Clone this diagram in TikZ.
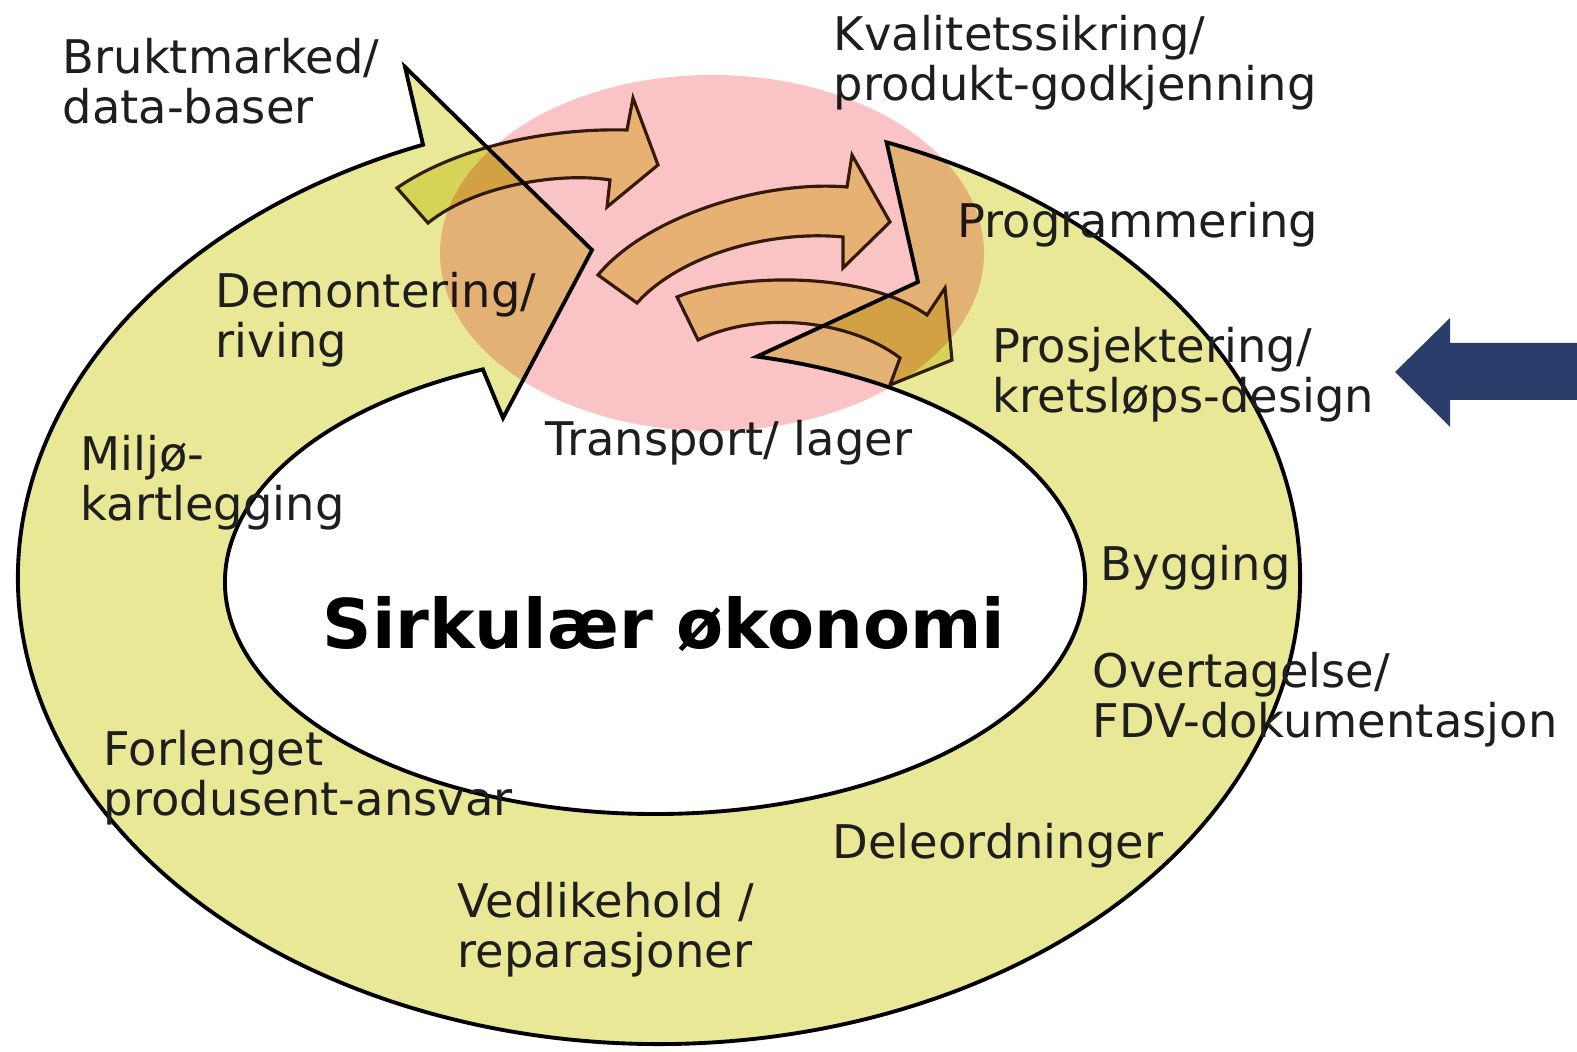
\documentclass[tikz,border=0pt]{standalone}
\usepackage{fontspec}
\setmainfont{DejaVu Sans}
\usetikzlibrary{calc}
\definecolor{ringyel}{HTML}{E8E896}
\definecolor{arryel}{HTML}{ECE896}
\definecolor{hlpink}{HTML}{FAC3C6}
\definecolor{snavy}{HTML}{2B3D6B}
\definecolor{sbrown}{HTML}{3A2410}
\definecolor{stext}{HTML}{1E1E1E}
\tikzset{
  ring/.style={draw=black, line width=1.1pt, fill=ringyel, line join=miter},
  flow/.style={draw=sbrown, line width=0.9pt, fill=arryel, blend mode=multiply},
  spot/.style={fill=hlpink, draw=none, blend mode=multiply},
  lbl/.style={anchor=north west, inner sep=0pt, align=left, text=stext,
    font=\fontsize{13.2}{14}\selectfont},
  ttl/.style={anchor=north west, inner sep=0pt, text=black,
    font=\fontsize{19.5}{22}\selectfont\bfseries}
}
\begin{document}
\begin{tikzpicture}
  \fill[white] (0,0) rectangle (15.77,10.52);
  \useasboundingbox (0,0) rectangle (15.77,10.52);
  \coordinate (oc) at (6.59,4.74);
  \coordinate (ic) at (6.55,4.70);

  % ring with head and notched tail
  \draw[ring] ($(oc)+(69.2:6.41 and 4.66)$)
    arc[start angle=69.2, end angle=-248.4, x radius=6.41, y radius=4.66]
    -- (4.05,9.85) -- (5.92,8.02) -- (5.03,6.34)
    -- ($(ic)+(113.6:4.30 and 2.32)$)
    arc[start angle=113.6, end angle=436.3, x radius=4.30, y radius=2.32]
    -- (9.18,7.70) -- cycle;

  % three curved arrows
  \draw[flow] (3.97,8.64) .. controls (4.55,9.04) and (5.45,9.24) .. (6.27,9.22)
    -- (6.33,9.54) -- (6.58,8.87) -- (6.07,8.45) -- (6.10,8.72)
    .. controls (5.60,8.80) and (4.75,8.67) .. (4.28,8.29) -- cycle;
  \draw[flow] (5.98,7.77) .. controls (6.45,8.34) and (7.60,8.72) .. (8.47,8.65)
    -- (8.52,8.97) -- (8.90,8.30) -- (8.43,7.84) -- (8.43,8.15)
    .. controls (7.70,8.22) and (6.80,7.97) .. (6.37,7.49) -- cycle;
  \draw[flow] (6.77,7.55) .. controls (7.30,7.77) and (8.60,7.84) .. (9.27,7.37)
    -- (9.45,7.64) -- (9.52,6.92) -- (8.90,6.67) -- (9.00,6.94)
    .. controls (8.50,7.32) and (7.60,7.42) .. (6.98,7.12) -- cycle;

  \node[lbl] (brukt) at (0.62,10.14) {Bruktmarked/\\data-baser};
  \node[lbl] (kval) at (8.33,10.37) {Kvalitetssikring/\\produkt-godkjenning};
  \node[lbl] (prog) at (9.57,8.50) {Programmering};
  \node[lbl] (demont) at (2.15,7.80) {Demontering/\\riving};
  \node[lbl] (prosj) at (9.92,7.25) {Prosjektering/\\kretsløps-design};
  \node[lbl] (transp) at (5.45,6.32) {Transport/ lager};
  \node[lbl] (miljo) at (0.80,6.17) {Miljø-\\kartlegging};
  \node[lbl] (bygg) at (11.00,5.07) {Bygging};
  \node[ttl] (sirk) at (3.22,4.56) {Sirkulær økonomi};
  \node[lbl] (overt) at (10.92,4.00) {Overtagelse/\\FDV-dokumentasjon};
  \node[lbl] (forl) at (1.03,3.22) {Forlenget\\produsent-ansvar};
  \node[lbl] (dele) at (8.32,2.29) {Deleordninger};
  \node[lbl] (vedl) at (4.57,1.70) {Vedlikehold /\\reparasjoner};

  \fill[spot] (7.12,7.99) ellipse[x radius=2.72, y radius=1.78];

  \fill[snavy] (13.95,6.80) -- (14.50,7.34) -- (14.50,7.09) -- (15.77,7.09)
    -- (15.77,6.52) -- (14.50,6.52) -- (14.50,6.25) -- cycle;
\end{tikzpicture}
\end{document}
